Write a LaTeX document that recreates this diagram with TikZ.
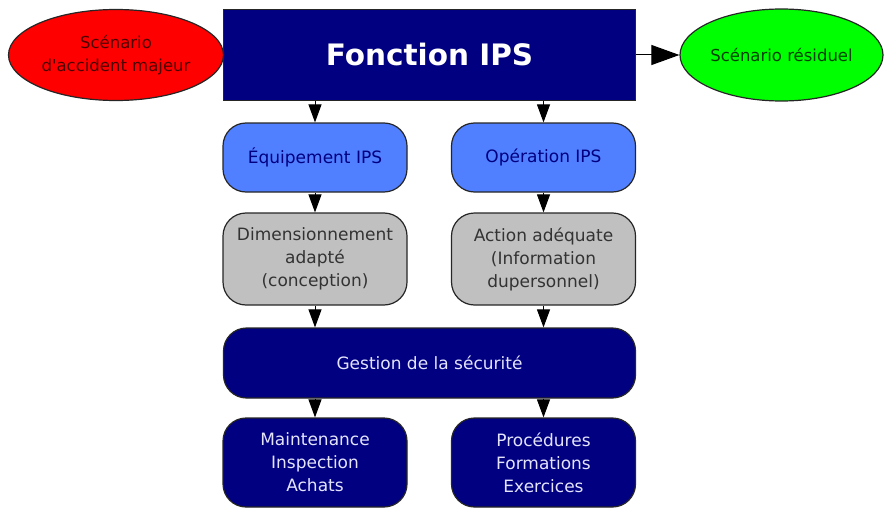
\documentclass[tikz,border=0pt]{standalone}
\usepackage{fontspec}
\setmainfont{DejaVu Sans}
\usetikzlibrary{arrows.meta,shapes.geometric}
\definecolor{navy}{HTML}{000080}
\definecolor{ipsblue}{HTML}{5080FF}
\definecolor{ipsgray}{HTML}{C0C0C0}
\definecolor{navytext}{HTML}{E4E4FF}
\tikzset{
  base/.style={draw=black!85, line width=1.2pt, inner sep=0pt, align=center,
    font=\fontsize{17}{23}\selectfont},
  rbox/.style={base, rounded corners=23pt, minimum width=184pt},
  bluebox/.style={rbox, fill=ipsblue, text=navy, minimum height=69pt},
  graybox/.style={rbox, fill=ipsgray, text=black!80, minimum height=92pt},
  navybox/.style={rbox, fill=navy, text=navytext, minimum height=89pt},
  scen/.style={base, ellipse, font=\fontsize{16.5}{23}\selectfont},
  link/.style={line width=1pt, -{Triangle[length=18pt,width=13pt]}},
}
\begin{document}
\begin{tikzpicture}[x=1pt,y=-1pt]
\useasboundingbox (0,0) rectangle (885,508);
% top row
\node[base, rectangle, fill=navy, text=white, minimum width=412pt, minimum height=91pt,
  font=\fontsize{29.5}{32}\selectfont\bfseries] (fonction) at (429.5,55) {Fonction IPS};
\node[scen, fill=red, text=black!70!red, minimum width=215pt, minimum height=91pt]
  (accident) at (116,55) {Scénario\\d\textquotesingle accident majeur};
\node[scen, fill=green, text=black!75!green, minimum width=203pt, minimum height=92pt]
  (residuel) at (781.5,55) {Scénario résiduel};
% middle rows
\node[bluebox] (equip) at (315,157.5) {Équipement IPS};
\node[bluebox] (oper) at (543.5,157.5) {Opération IPS};
\node[graybox] (dimens) at (315,259) {Dimensionnement\\adapté\\(conception)};
\node[graybox] (action) at (543.5,259) {Action adéquate\\(Information\\dupersonnel)};
\node[rbox, fill=navy, text=navytext, minimum width=412pt, minimum height=70pt]
  (gestion) at (429.5,363) {Gestion de la sécurité};
\node[navybox] (maint) at (315,462.5) {Maintenance\\Inspection\\Achats};
\node[navybox] (proc) at (543.5,462.5) {Procédures\\Formations\\Exercices};
% connectors
\draw[line width=1pt, -{Triangle[length=28pt,width=20pt]}] (fonction.east) -- (residuel.west);
\draw[link] (fonction.south -| equip.north) -- (equip.north);
\draw[link] (fonction.south -| oper.north) -- (oper.north);
\draw[link] (equip) -- (dimens);
\draw[link] (oper) -- (action);
\draw[link] (dimens.south) -- (gestion.north -| dimens.south);
\draw[link] (action.south) -- (gestion.north -| action.south);
\draw[link] (gestion.south -| maint.north) -- (maint.north);
\draw[link] (gestion.south -| proc.north) -- (proc.north);
\end{tikzpicture}
\end{document}
